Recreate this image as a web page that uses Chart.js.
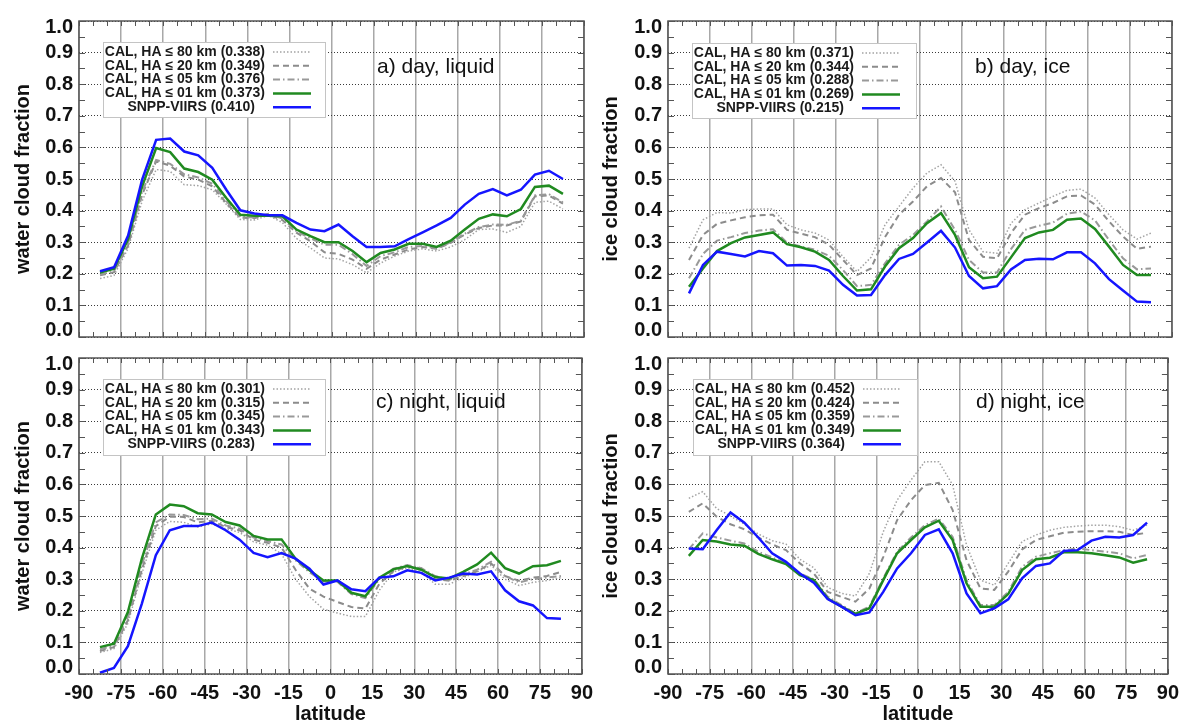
<!DOCTYPE html>
<html>
<head>
<meta charset="utf-8">
<script src="https://cdn.jsdelivr.net/npm/chart.js@4.4.1/dist/chart.umd.min.js"></script>
<style>
  html, body { margin: 0; padding: 0; background: #fff; overflow: hidden; width: 1186px; height: 722px; }
  .panel { position: absolute; }
</style>
</head>
<body>
<div class="panel" style="left:0px;top:0px;"><canvas id="chartA" width="600" height="345"></canvas></div>
<div class="panel" style="left:590px;top:0px;"><canvas id="chartB" width="596" height="345"></canvas></div>
<div class="panel" style="left:0px;top:345px;"><canvas id="chartC" width="600" height="381"></canvas></div>
<div class="panel" style="left:590px;top:345px;"><canvas id="chartD" width="596" height="381"></canvas></div>
<script>
// latitude bin centres
const latitudes = [-82.5, -77.5, -72.5, -67.5, -62.5, -57.5, -52.5, -47.5, -42.5, -37.5, -32.5, -27.5,
    -22.5, -17.5, -12.5, -7.5, -2.5, 2.5, 7.5, 12.5, 17.5, 22.5, 27.5, 32.5, 37.5, 42.5, 47.5, 52.5,
    57.5, 62.5, 67.5, 72.5, 77.5, 82.5];

const xTickValues = [-90, -75, -60, -45, -30, -15, 0, 15, 30, 45, 60, 75, 90];
const xTickLabels = ['-90', '-75', '-60', '-45', '-30', '-15', '0', '15', '30', '45', '60', '75', '90'];
const yTickValues = [0, 0.1, 0.2, 0.3, 0.4, 0.5, 0.6, 0.7, 0.8, 0.9, 1.0];
const yTickLabels = ['0.0', '0.1', '0.2', '0.3', '0.4', '0.5', '0.6', '0.7', '0.8', '0.9', '1.0'];

const seriesNames = ['CAL, HA \u2264 80 km', 'CAL, HA \u2264 20 km', 'CAL, HA \u2264 05 km', 'CAL, HA \u2264 01 km', 'SNPP-VIIRS'];

// a) day, liquid
const dayLiquid80 = [0.185, 0.195, 0.280, 0.430, 0.530, 0.524, 0.482, 0.479, 0.466, 0.420, 0.372, 0.370, 0.385, 0.362, 0.312, 0.282, 0.250,
    0.247, 0.229, 0.203, 0.234, 0.256, 0.272, 0.279, 0.272, 0.285, 0.308, 0.340, 0.342, 0.331, 0.350, 0.426, 0.430, 0.405];
const dayLiquid20 = [0.195, 0.205, 0.290, 0.450, 0.556, 0.542, 0.508, 0.498, 0.477, 0.424, 0.378, 0.376, 0.388, 0.370, 0.330, 0.303, 0.268,
    0.263, 0.245, 0.216, 0.245, 0.261, 0.277, 0.285, 0.279, 0.298, 0.324, 0.345, 0.353, 0.353, 0.366, 0.445, 0.448, 0.422];
const dayLiquid05 = [0.198, 0.208, 0.297, 0.460, 0.560, 0.548, 0.515, 0.505, 0.485, 0.430, 0.380, 0.378, 0.390, 0.375, 0.335, 0.312, 0.292,
    0.292, 0.262, 0.225, 0.256, 0.268, 0.285, 0.288, 0.280, 0.300, 0.327, 0.348, 0.356, 0.355, 0.368, 0.448, 0.452, 0.426];
const dayLiquid01 = [0.204, 0.216, 0.310, 0.477, 0.598, 0.585, 0.533, 0.522, 0.498, 0.440, 0.387, 0.384, 0.384, 0.382, 0.340, 0.319, 0.300,
    0.300, 0.272, 0.237, 0.266, 0.277, 0.295, 0.295, 0.285, 0.305, 0.340, 0.374, 0.388, 0.382, 0.405, 0.475, 0.479, 0.453];
const dayLiquidViirs = [0.208, 0.221, 0.321, 0.498, 0.624, 0.628, 0.587, 0.575, 0.535, 0.466, 0.401, 0.391, 0.385, 0.385, 0.361, 0.340, 0.335,
    0.356, 0.319, 0.285, 0.285, 0.287, 0.310, 0.331, 0.353, 0.377, 0.419, 0.453, 0.468, 0.448, 0.466, 0.514, 0.526, 0.500];
const dayLiquidMeans = ['0.338', '0.349', '0.376', '0.373', '0.410'];

// b) day, ice
const dayIce80 = [0.281, 0.371, 0.394, 0.392, 0.403, 0.405, 0.405, 0.355, 0.339, 0.329, 0.307, 0.254, 0.207, 0.252, 0.355, 0.413, 0.471,
    0.519, 0.545, 0.493, 0.339, 0.270, 0.265, 0.360, 0.403, 0.424, 0.445, 0.464, 0.468, 0.440, 0.387, 0.339, 0.310, 0.329];
const dayIce20 = [0.244, 0.323, 0.358, 0.369, 0.379, 0.385, 0.387, 0.339, 0.327, 0.316, 0.292, 0.244, 0.196, 0.217, 0.316, 0.387, 0.429,
    0.477, 0.503, 0.458, 0.307, 0.254, 0.249, 0.329, 0.387, 0.408, 0.424, 0.445, 0.448, 0.419, 0.366, 0.318, 0.279, 0.286];
const dayIce05 = [0.186, 0.263, 0.305, 0.316, 0.329, 0.337, 0.341, 0.299, 0.286, 0.276, 0.257, 0.212, 0.161, 0.165, 0.233, 0.292, 0.323,
    0.366, 0.413, 0.339, 0.244, 0.204, 0.204, 0.278, 0.339, 0.352, 0.362, 0.390, 0.397, 0.369, 0.307, 0.249, 0.214, 0.217];
const dayIce01 = [0.159, 0.217, 0.272, 0.297, 0.315, 0.323, 0.331, 0.294, 0.284, 0.270, 0.244, 0.193, 0.147, 0.151, 0.223, 0.281, 0.313,
    0.360, 0.392, 0.323, 0.221, 0.186, 0.191, 0.252, 0.313, 0.331, 0.339, 0.371, 0.375, 0.342, 0.286, 0.228, 0.196, 0.196];
const dayIceViirs = [0.138, 0.228, 0.270, 0.263, 0.255, 0.272, 0.265, 0.226, 0.228, 0.225, 0.210, 0.165, 0.131, 0.133, 0.196, 0.247, 0.263,
    0.299, 0.336, 0.283, 0.193, 0.154, 0.161, 0.214, 0.244, 0.248, 0.246, 0.268, 0.268, 0.233, 0.183, 0.147, 0.112, 0.110];
const dayIceMeans = ['0.371', '0.344', '0.288', '0.269', '0.215'];

// c) night, liquid
const nightLiquid80 = [0.068, 0.080, 0.160, 0.318, 0.455, 0.483, 0.480, 0.465, 0.475, 0.460, 0.448, 0.418, 0.408, 0.380, 0.300, 0.245, 0.205,
    0.193, 0.182, 0.182, 0.265, 0.323, 0.336, 0.323, 0.284, 0.284, 0.305, 0.323, 0.344, 0.300, 0.280, 0.290, 0.296, 0.305];
const nightLiquid20 = [0.073, 0.085, 0.170, 0.330, 0.468, 0.498, 0.497, 0.480, 0.485, 0.465, 0.455, 0.425, 0.415, 0.400, 0.330, 0.270, 0.245,
    0.228, 0.212, 0.207, 0.285, 0.325, 0.340, 0.335, 0.300, 0.295, 0.310, 0.325, 0.350, 0.310, 0.295, 0.305, 0.310, 0.323];
const nightLiquid05 = [0.078, 0.090, 0.180, 0.345, 0.480, 0.505, 0.503, 0.490, 0.492, 0.470, 0.460, 0.432, 0.420, 0.410, 0.360, 0.322, 0.293,
    0.292, 0.253, 0.240, 0.300, 0.333, 0.345, 0.335, 0.310, 0.298, 0.315, 0.330, 0.355, 0.310, 0.290, 0.300, 0.305, 0.310];
const nightLiquid01 = [0.085, 0.096, 0.196, 0.365, 0.505, 0.536, 0.531, 0.509, 0.505, 0.481, 0.470, 0.437, 0.426, 0.426, 0.365, 0.328, 0.296,
    0.296, 0.257, 0.246, 0.305, 0.331, 0.342, 0.330, 0.307, 0.302, 0.323, 0.347, 0.384, 0.335, 0.318, 0.341, 0.344, 0.358];
const nightLiquidViirs = [0.004, 0.019, 0.088, 0.223, 0.376, 0.455, 0.468, 0.468, 0.479, 0.455, 0.425, 0.383, 0.370, 0.383, 0.365, 0.333, 0.283,
    0.296, 0.268, 0.262, 0.305, 0.309, 0.328, 0.320, 0.296, 0.305, 0.318, 0.315, 0.325, 0.265, 0.230, 0.217, 0.177, 0.175];
const nightLiquidMeans = ['0.301', '0.315', '0.345', '0.343', '0.283'];

// d) night, ice
const nightIce80 = [0.556, 0.577, 0.524, 0.500, 0.474, 0.443, 0.422, 0.411, 0.363, 0.336, 0.274, 0.255, 0.247, 0.318, 0.450, 0.550, 0.614,
    0.672, 0.672, 0.598, 0.408, 0.297, 0.281, 0.350, 0.419, 0.440, 0.455, 0.464, 0.468, 0.471, 0.471, 0.466, 0.455, 0.471];
const nightIce20 = [0.513, 0.540, 0.498, 0.474, 0.458, 0.432, 0.410, 0.392, 0.350, 0.318, 0.260, 0.244, 0.229, 0.270, 0.370, 0.487, 0.550,
    0.598, 0.605, 0.519, 0.360, 0.271, 0.266, 0.324, 0.394, 0.424, 0.436, 0.447, 0.450, 0.452, 0.452, 0.450, 0.440, 0.447];
const nightIce05 = [0.395, 0.445, 0.432, 0.422, 0.413, 0.387, 0.369, 0.350, 0.318, 0.300, 0.245, 0.218, 0.192, 0.213, 0.303, 0.387, 0.432,
    0.471, 0.492, 0.434, 0.297, 0.218, 0.218, 0.260, 0.339, 0.371, 0.382, 0.392, 0.397, 0.392, 0.387, 0.382, 0.366, 0.377];
const nightIce01 = [0.374, 0.424, 0.419, 0.410, 0.406, 0.380, 0.363, 0.348, 0.313, 0.297, 0.239, 0.213, 0.190, 0.208, 0.297, 0.382, 0.424,
    0.464, 0.485, 0.424, 0.287, 0.213, 0.213, 0.253, 0.329, 0.363, 0.368, 0.385, 0.385, 0.382, 0.376, 0.369, 0.352, 0.363];
const nightIceViirs = [0.397, 0.395, 0.455, 0.511, 0.479, 0.432, 0.382, 0.355, 0.318, 0.289, 0.237, 0.213, 0.186, 0.195, 0.260, 0.334, 0.382,
    0.440, 0.458, 0.382, 0.255, 0.192, 0.208, 0.236, 0.303, 0.342, 0.350, 0.389, 0.392, 0.422, 0.434, 0.432, 0.440, 0.479];
const nightIceMeans = ['0.452', '0.424', '0.359', '0.349', '0.364'];

const FONT = "'Liberation Sans', Arial, Helvetica, sans-serif";
Chart.defaults.font.family = FONT;

// line styles: dotted, dashed, dash-dot, green, blue
const lineStyles = [
    { color: '#a3a3a3', width: 1.5, dash: [1.5, 2], order: 5 },
    { color: '#8c8c8c', width: 2, dash: [6, 4], order: 4 },
    { color: '#999999', width: 2, dash: [7, 3, 1.5, 3], order: 3 },
    { color: '#208a20', width: 2.5, dash: [], order: 2 },
    { color: '#1515ff', width: 2.5, dash: [], order: 1 }
];

// draws the frame, minor ticks, y labels, panel label and legend
const framePlugin = {
    id: 'frame',
    afterDraw(chart, args, opts) {
        const { ctx, chartArea: a, scales: { x, y } } = chart;
        ctx.save();

        // minor ticks on all four sides
        ctx.strokeStyle = '#555';
        ctx.lineWidth = 1;
        ctx.setLineDash([]);
        ctx.beginPath();
        for (let v = -90; v <= 90; v += 5) {
            const px = Math.round(x.getPixelForValue(v)) + 0.5;
            ctx.moveTo(px, a.bottom); ctx.lineTo(px, a.bottom - 5);
            ctx.moveTo(px, a.top); ctx.lineTo(px, a.top + 5);
        }
        for (let i = 0; i <= 20; i++) {
            const py = Math.round(y.getPixelForValue(i * 0.05)) + 0.5;
            ctx.moveTo(a.left, py); ctx.lineTo(a.left + 6, py);
            ctx.moveTo(a.right, py); ctx.lineTo(a.right - 6, py);
        }
        ctx.stroke();

        // plot box
        ctx.strokeStyle = '#555';
        ctx.lineWidth = 1.5;
        ctx.strokeRect(a.left, a.top, a.right - a.left, a.bottom - a.top);

        // y tick labels
        ctx.fillStyle = '#111';
        ctx.font = 'bold 20px ' + FONT;
        ctx.textAlign = 'right';
        ctx.textBaseline = 'middle';
        yTickValues.forEach((v, i) => {
            let py = y.getPixelForValue(v);
            if (i === 0) py -= 7;
            if (i === yTickValues.length - 1) py += 6;
            ctx.fillText(yTickLabels[i], a.left - 6, py);
        });

        // panel label
        ctx.font = '21px ' + FONT;
        ctx.textAlign = 'left';
        ctx.fillText(opts.label, opts.labelX, opts.labelY);

        // legend box
        const b = opts.legend;
        ctx.fillStyle = '#fff';
        ctx.fillRect(b.x, b.y, b.w, b.h);
        ctx.strokeStyle = '#c4c4c4';
        ctx.lineWidth = 1;
        ctx.strokeRect(b.x + 0.5, b.y + 0.5, b.w, b.h);
        ctx.font = 'bold 14px ' + FONT;
        ctx.textAlign = 'right';
        chart.data.datasets.forEach((ds, i) => {
            const rowY = b.y + 10 + i * 13.8;
            const last = i === chart.data.datasets.length - 1;
            ctx.fillStyle = '#1a1a1a';
            ctx.fillText(ds.label, b.x + (last ? 152 : 162), rowY);
            ctx.strokeStyle = ds.borderColor;
            ctx.lineWidth = ds.borderWidth;
            ctx.setLineDash(ds.borderDash);
            ctx.beginPath();
            ctx.moveTo(b.x + 170, rowY);
            ctx.lineTo(b.x + 208, rowY);
            ctx.stroke();
            ctx.setLineDash([]);
        });
        ctx.restore();
    }
};

function crearPanel(canvasId, cfg) {
    const datasets = cfg.series.map((vals, i) => ({
        label: seriesNames[i] + ' (' + cfg.means[i] + ')',
        data: latitudes.map((lat, j) => ({ x: lat, y: vals[j] })),
        borderColor: lineStyles[i].color,
        borderWidth: lineStyles[i].width,
        borderDash: lineStyles[i].dash,
        order: lineStyles[i].order,
        pointRadius: 0,
        tension: 0,
        fill: false
    }));

    new Chart(document.getElementById(canvasId), {
        type: 'line',
        data: { datasets: datasets },
        plugins: [framePlugin],
        options: {
            responsive: false,
            animation: false,
            events: [],
            layout: { padding: { left: 0, right: cfg.padRight, top: cfg.padTop, bottom: 0 } },
            plugins: {
                legend: { display: false },
                tooltip: { enabled: false },
                frame: {
                    label: cfg.label,
                    labelX: cfg.labelX,
                    labelY: cfg.labelY,
                    legend: cfg.legend
                }
            },
            scales: {
                x: {
                    type: 'linear',
                    min: -90,
                    max: 90,
                    afterBuildTicks: (scale) => { scale.ticks = xTickValues.map(v => ({ value: v })); },
                    afterFit: (scale) => { scale.height = cfg.xHeight; },
                    grid: { color: '#a8a8a8', lineWidth: 1.5, drawTicks: false },
                    border: { display: false },
                    ticks: {
                        display: cfg.bottom,
                        autoSkip: false,
                        maxRotation: 0,
                        padding: 7,
                        color: '#111',
                        font: { size: 20, weight: 'bold' },
                        callback: (value) => xTickLabels[xTickValues.indexOf(value)]
                    },
                    title: {
                        display: cfg.bottom,
                        text: 'latitude',
                        color: '#111',
                        font: { size: 20, weight: 'bold' },
                        padding: { top: 0, bottom: 0 }
                    }
                },
                y: {
                    type: 'linear',
                    min: 0,
                    max: 1,
                    afterBuildTicks: (scale) => { scale.ticks = yTickValues.map(v => ({ value: v })); },
                    afterFit: (scale) => { scale.width = cfg.yWidth; },
                    grid: { color: '#3a3a3a', lineWidth: 1, drawTicks: false },
                    border: { display: false, dash: [1, 2] },
                    ticks: { display: false },
                    title: {
                        display: true,
                        text: cfg.yTitle,
                        color: '#111',
                        font: { size: 20, weight: 'bold' },
                        padding: { top: cfg.yTitlePad, bottom: 0 }
                    }
                }
            }
        }
    });
}

crearPanel('chartA', {
    series: [dayLiquid80, dayLiquid20, dayLiquid05, dayLiquid01, dayLiquidViirs],
    means: dayLiquidMeans,
    yTitle: 'water cloud fraction',
    label: 'a) day, liquid', labelX: 377, labelY: 67,
    legend: { x: 103, y: 42, w: 222, h: 75 },
    bottom: false, xHeight: 8, yWidth: 79, padTop: 21, padRight: 16, yTitlePad: 11
});

crearPanel('chartB', {
    series: [dayIce80, dayIce20, dayIce05, dayIce01, dayIceViirs],
    means: dayIceMeans,
    yTitle: 'ice cloud fraction',
    label: 'b) day, ice', labelX: 385, labelY: 67,
    legend: { x: 102, y: 43, w: 224, h: 75 },
    bottom: false, xHeight: 8, yWidth: 78, padTop: 21, padRight: 14, yTitlePad: 9
});

crearPanel('chartC', {
    series: [nightLiquid80, nightLiquid20, nightLiquid05, nightLiquid01, nightLiquidViirs],
    means: nightLiquidMeans,
    yTitle: 'water cloud fraction',
    label: 'c) night, liquid', labelX: 376, labelY: 57,
    legend: { x: 103, y: 34, w: 222, h: 76 },
    bottom: true, xHeight: 52, yWidth: 79, padTop: 13, padRight: 16, yTitlePad: 11
});

crearPanel('chartD', {
    series: [nightIce80, nightIce20, nightIce05, nightIce01, nightIceViirs],
    means: nightIceMeans,
    yTitle: 'ice cloud fraction',
    label: 'd) night, ice', labelX: 386, labelY: 57,
    legend: { x: 103, y: 34, w: 224, h: 76 },
    bottom: true, xHeight: 52, yWidth: 78, padTop: 13, padRight: 14, yTitlePad: 9
});
</script>
</body>
</html>
